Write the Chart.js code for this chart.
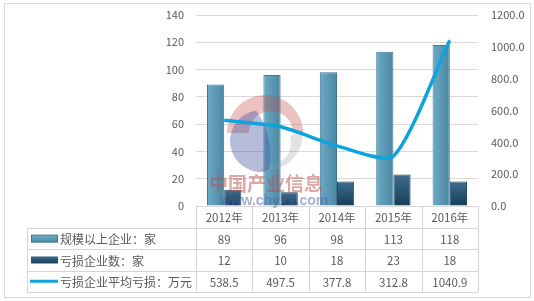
<!DOCTYPE html>
<html>
<head>
<meta charset="utf-8">
<script src="https://cdn.jsdelivr.net/npm/chart.js@4.4.1/dist/chart.umd.min.js"></script>
<style>
  body { margin: 0; background: #fff; }
  #wrap { position: relative; width: 534px; height: 301px; }
</style>
</head>
<body>
<div id="wrap"><canvas id="chart" width="534" height="301"></canvas></div>
<script>
// data
let years = ["2012年", "2013年", "2014年", "2015年", "2016年"]
let bigFirms = [89, 96, 98, 113, 118]        // 规模以上企业：家
let lossFirms = [12, 10, 18, 23, 18]         // 亏损企业数：家
let avgLoss = [538.5, 497.5, 377.8, 312.8, 1040.9]  // 亏损企业平均亏损：万元
let seriesNames = ["规模以上企业：家", "亏损企业数：家", "亏损企业平均亏损：万元"]

let cjk = '"Noto Sans CJK SC", "Noto Sans", sans-serif'
let textColor = "#595959"
let gridColor = "#D9D9D9"
let lineColor = "#0FA3DD"

// gradient helpers for the bars, using the scales so they work on the first pass
function barFill(light, dark, side){
  return function(ctx){
    let chart = ctx.chart
    if(!chart.chartArea) return light
    let cx = chart.scales.x.getPixelForValue(ctx.dataIndex)
    let x0 = side < 0 ? cx - 17 : cx
    let g = chart.ctx.createLinearGradient(x0, 0, x0 + 17, 0)
    g.addColorStop(0, light)
    g.addColorStop(1, dark)
    return g
  }
}
function barFill2(ctx){
  let chart = ctx.chart
  if(!chart.chartArea) return "#2A5878"
  let v = ctx.raw
  let top = chart.scales.y.getPixelForValue(v)
  let bottom = chart.scales.y.getPixelForValue(0)
  let g = chart.ctx.createLinearGradient(0, top, 0, bottom)
  g.addColorStop(0, "#3E6E90")
  g.addColorStop(1, "#163D58")
  return g
}

// watermark drawn just before the line
let watermark = {
  id: "watermark",
  beforeDatasetDraw(chart, args){
    if(args.index !== 2) return
    let c = chart.ctx
    c.save()
    let cx = 265, cy = 133
    // red top arc
    c.globalAlpha = 0.35
    c.fillStyle = "#C0504D"
    c.beginPath()
    c.arc(cx, cy, 38, Math.PI, 2 * Math.PI)
    c.arc(cx + 6, cy, 22, 2 * Math.PI, Math.PI, true)
    c.closePath()
    c.fill()
    // gray right part
    c.fillStyle = "#9A9A9A"
    c.globalAlpha = 0.28
    c.beginPath()
    c.arc(cx, cy, 38, -0.1, Math.PI * 0.55)
    c.arc(cx + 4, cy + 10, 22, Math.PI * 0.5, -0.3, true)
    c.closePath()
    c.fill()
    // blue left/bottom part
    c.fillStyle = "#3F51A0"
    c.globalAlpha = 0.38
    c.beginPath()
    c.arc(cx - 4, cy + 8, 31, Math.PI * 0.45, Math.PI * 1.45)
    c.quadraticCurveTo(cx + 10, cy + 5, cx + 4, cy + 36)
    c.closePath()
    c.fill()
    // text
    c.globalAlpha = 0.5
    c.fillStyle = "#C0504D"
    c.font = "bold 19px " + cjk
    c.textAlign = "center"
    c.textBaseline = "middle"
    c.fillText("中国产业信息", 266, 184)
    c.fillStyle = "#4F5FAA"
    c.font = "bold 14px Arial, sans-serif"
    c.fillText("www.chyxx.com", 274, 201)
    c.restore()
  }
}

// data table under the plot + outer frame
let dataTable = {
  id: "dataTable",
  afterDraw(chart){
    let c = chart.ctx
    let area = chart.chartArea
    let xs = chart.scales.x
    let left = 27, top = area.bottom, rowH = 21.3, headH = 22
    let colW = (area.right - area.left) / years.length
    c.save()
    // frame
    c.strokeStyle = "#D9D9D9"
    c.lineWidth = 1
    c.strokeRect(4.5, 3.5, 526, 294)
    c.strokeStyle = "#D4D4D4"
    // horizontal lines
    for(let r = 0; r <= 3; r++){
      let y = Math.round(top + headH + r * rowH) + 0.5
      c.beginPath(); c.moveTo(left, y); c.lineTo(area.right, y); c.stroke()
    }
    let bottom = Math.round(top + headH + 3 * rowH) + 0.5
    // vertical lines
    for(let i = 0; i <= years.length; i++){
      let x = Math.round(area.left + i * colW) + 0.5
      c.beginPath(); c.moveTo(x, top); c.lineTo(x, bottom); c.stroke()
    }
    c.beginPath(); c.moveTo(left + 0.5, top + headH); c.lineTo(left + 0.5, bottom); c.stroke()

    c.fillStyle = textColor
    c.textAlign = "center"
    c.textBaseline = "middle"
    c.font = "11.5px " + cjk
    years.forEach(function(y, i){
      c.fillText(y, xs.getPixelForValue(i), top + headH / 2 + 1)
    })
    let rows = [bigFirms.map(String), lossFirms.map(String), avgLoss.map(v => v.toFixed(1))]
    rows.forEach(function(row, r){
      let ym = top + headH + r * rowH + rowH / 2 + 1
      row.forEach(function(t, i){
        c.fillText(t, xs.getPixelForValue(i), ym)
      })
    })
    // legend keys
    c.textAlign = "left"
    c.font = "12px " + cjk
    seriesNames.forEach(function(name, r){
      let ym = top + headH + r * rowH + rowH / 2
      if(r === 0){
        let g = c.createLinearGradient(0, ym - 4, 0, ym + 4)
        g.addColorStop(0, "#6FB1CD"); g.addColorStop(1, "#4A87A3")
        c.fillStyle = g
        c.fillRect(31, ym - 3.5, 27, 7)
        c.strokeStyle = "#3F7893"; c.strokeRect(31.5, ym - 3.5, 26, 7)
      } else if(r === 1){
        let g = c.createLinearGradient(0, ym - 4, 0, ym + 4)
        g.addColorStop(0, "#3E6E90"); g.addColorStop(1, "#163D58")
        c.fillStyle = g
        c.fillRect(31, ym - 3.5, 27, 7)
      } else {
        c.strokeStyle = lineColor
        c.lineWidth = 3
        c.beginPath(); c.moveTo(30, ym); c.lineTo(58, ym); c.stroke()
        c.lineWidth = 1
      }
      c.fillStyle = textColor
      c.fillText(name, 60, ym + 1)
    })
    c.restore()
  }
}

new Chart(document.getElementById("chart"), {
  type: "bar",
  data: {
    labels: years,
    datasets: [
      {
        label: seriesNames[0],
        data: bigFirms,
        yAxisID: "y",
        order: 1,
        backgroundColor: barFill("#6AAAC6", "#4C86A1", -1),
        borderColor: "#3F7893",
        borderWidth: 1,
        barPercentage: 1,
        categoryPercentage: 0.61
      },
      {
        label: seriesNames[1],
        data: lossFirms,
        yAxisID: "y",
        order: 1,
        backgroundColor: barFill2,
        borderColor: "#1F4762",
        borderWidth: 1,
        barPercentage: 1,
        categoryPercentage: 0.61
      },
      {
        type: "line",
        label: seriesNames[2],
        data: avgLoss,
        yAxisID: "y2",
        order: 0,
        borderColor: lineColor,
        borderWidth: 3.5,
        pointRadius: 0,
        tension: 0.22,
        fill: false
      }
    ]
  },
  options: {
    responsive: false,
    animation: false,
    devicePixelRatio: 1,
    layout: { padding: { top: 15, bottom: 95, left: 0, right: 0 } },
    plugins: { legend: { display: false }, tooltip: { enabled: false } },
    scales: {
      x: { display: false, offset: true },
      y: {
        position: "left",
        min: 0, max: 140,
        ticks: { stepSize: 20, color: textColor, padding: 0, font: { family: cjk, size: 11 } },
        grid: { color: gridColor, drawTicks: true, tickLength: 12, tickColor: "rgba(0,0,0,0)" },
        border: { display: false },
        afterFit(scale){ scale.width = 196 }
      },
      y2: {
        position: "right",
        min: 0, max: 1200,
        ticks: { stepSize: 200, color: textColor, padding: 0, font: { family: cjk, size: 11 },
          callback: v => v.toFixed(1) },
        grid: { display: false, drawTicks: true, tickLength: 13 },
        border: { display: false },
        afterFit(scale){ scale.width = 56 }
      }
    }
  },
  plugins: [watermark, dataTable]
})
</script>
</body>
</html>
